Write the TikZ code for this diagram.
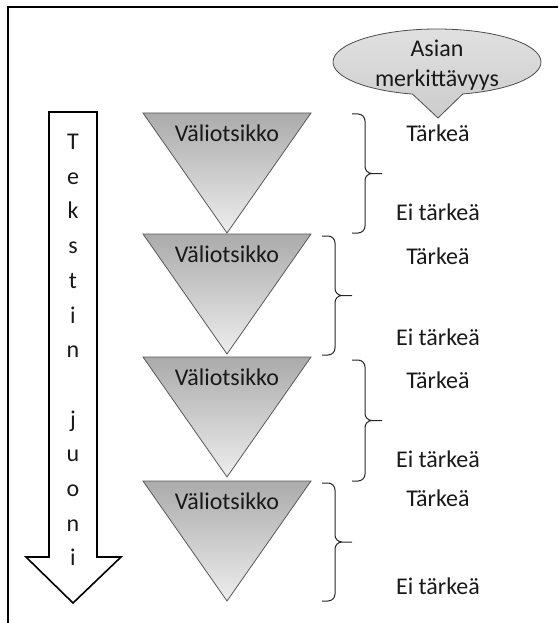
\documentclass[tikz,border=0pt]{standalone}
\usepackage{fontspec}
\setmainfont{Carlito}
\usetikzlibrary{shapes.callouts}

\tikzset{
  txt/.style={font=\fontsize{24}{29}\selectfont, text=black!90, inner sep=0pt},
  wedge/.style={draw=black!65, line width=0.8pt, top color=black!33, bottom color=black!7},
  curly/.style={draw=black!85, line width=1pt, rounded corners=7pt},
  bubble/.style={ellipse callout, draw=black!70, line width=0.8pt,
                 top color=black!12, bottom color=black!20,
                 minimum width=208pt, minimum height=66pt, inner sep=0pt,
                 callout pointer arc=28},
  flowarrow/.style={draw=black, line width=1.6pt, fill=white, line join=miter},
  framing/.style={draw=black, line width=1.6pt}
}

\begin{document}
\begin{tikzpicture}[x=1pt,y=-1pt]
  \useasboundingbox (0,0) rectangle (558,623);

  % frame (top and left edges)
  \coordinate (fbl) at (8,623);
  \coordinate (ftl) at (8,7);
  \coordinate (ftr) at (558,7);
  \draw[framing] (fbl) -- (ftl) -- (ftr);

  % big downward arrow with the vertical caption
  \draw[flowarrow] (49,112) coordinate (a1) -- (97,112) coordinate (a2)
        -- (97,557) coordinate (a3) -- (121,557) coordinate (a4)
        -- (73,603) coordinate (a5) -- (26,557) coordinate (a6)
        -- (49,557) coordinate (a7) -- cycle;
  \foreach \ch [count=\i] in {T,e,k,s,t,i,n,{},j,u,o,n,i}
    \node[txt, anchor=base] (L\i) at (73,{149.5+34.7*(\i-1)}) {\ch};

  % funnel triangles
  \foreach \top [count=\i] in {113,234,357,481} {
    \path[wedge] (143,\top) coordinate (w\i a) -- (311,\top) coordinate (w\i b)
          -- (227,\top+120) coordinate (w\i c) -- cycle;
    \node[txt] (v\i) at (227,\top+20) {Väliotsikko};
  }

  % braces: top hook, straight spine, tip, spine, bottom hook
  \coordinate (b1t) at (352,114); \coordinate (b1b) at (352,233);
  \coordinate (b2t) at (322,236); \coordinate (b2b) at (322,355);
  \coordinate (b3t) at (352,360); \coordinate (b3b) at (352,481);
  \coordinate (b4t) at (322,483); \coordinate (b4b) at (322,601);
  \foreach \b/\h in {1/119,2/119,3/121,4/118} {
    \draw[curly] (b\b t) -- ++(13,0) -- ++(0,\h/2) -- ++(17,0)
          ++(0,0) -- ++(-17,0) -- ++(0,\h/2) -- (b\b b);
  }

  % importance labels
  \node[txt] (k1) at (438,133) {Tärkeä};
  \node[txt] (e1) at (438,212) {Ei tärkeä};
  \node[txt] (k2) at (438,256) {Tärkeä};
  \node[txt] (e2) at (438,337) {Ei tärkeä};
  \node[txt] (k3) at (438,380) {Tärkeä};
  \node[txt] (e3) at (438,459) {Ei tärkeä};
  \node[txt] (k4) at (438,498) {Tärkeä};
  \node[txt] (e4) at (438,586) {Ei tärkeä};

  % speech bubble
  \coordinate (tip) at (438,118);
  \node[bubble, callout absolute pointer={(tip)}] (ask) at (437,62) {};
  \node[txt, align=center, font=\fontsize{24}{30}\selectfont] (asktxt) at (437,65)
       {Asian\\merkittävyys};
\end{tikzpicture}
\end{document}
